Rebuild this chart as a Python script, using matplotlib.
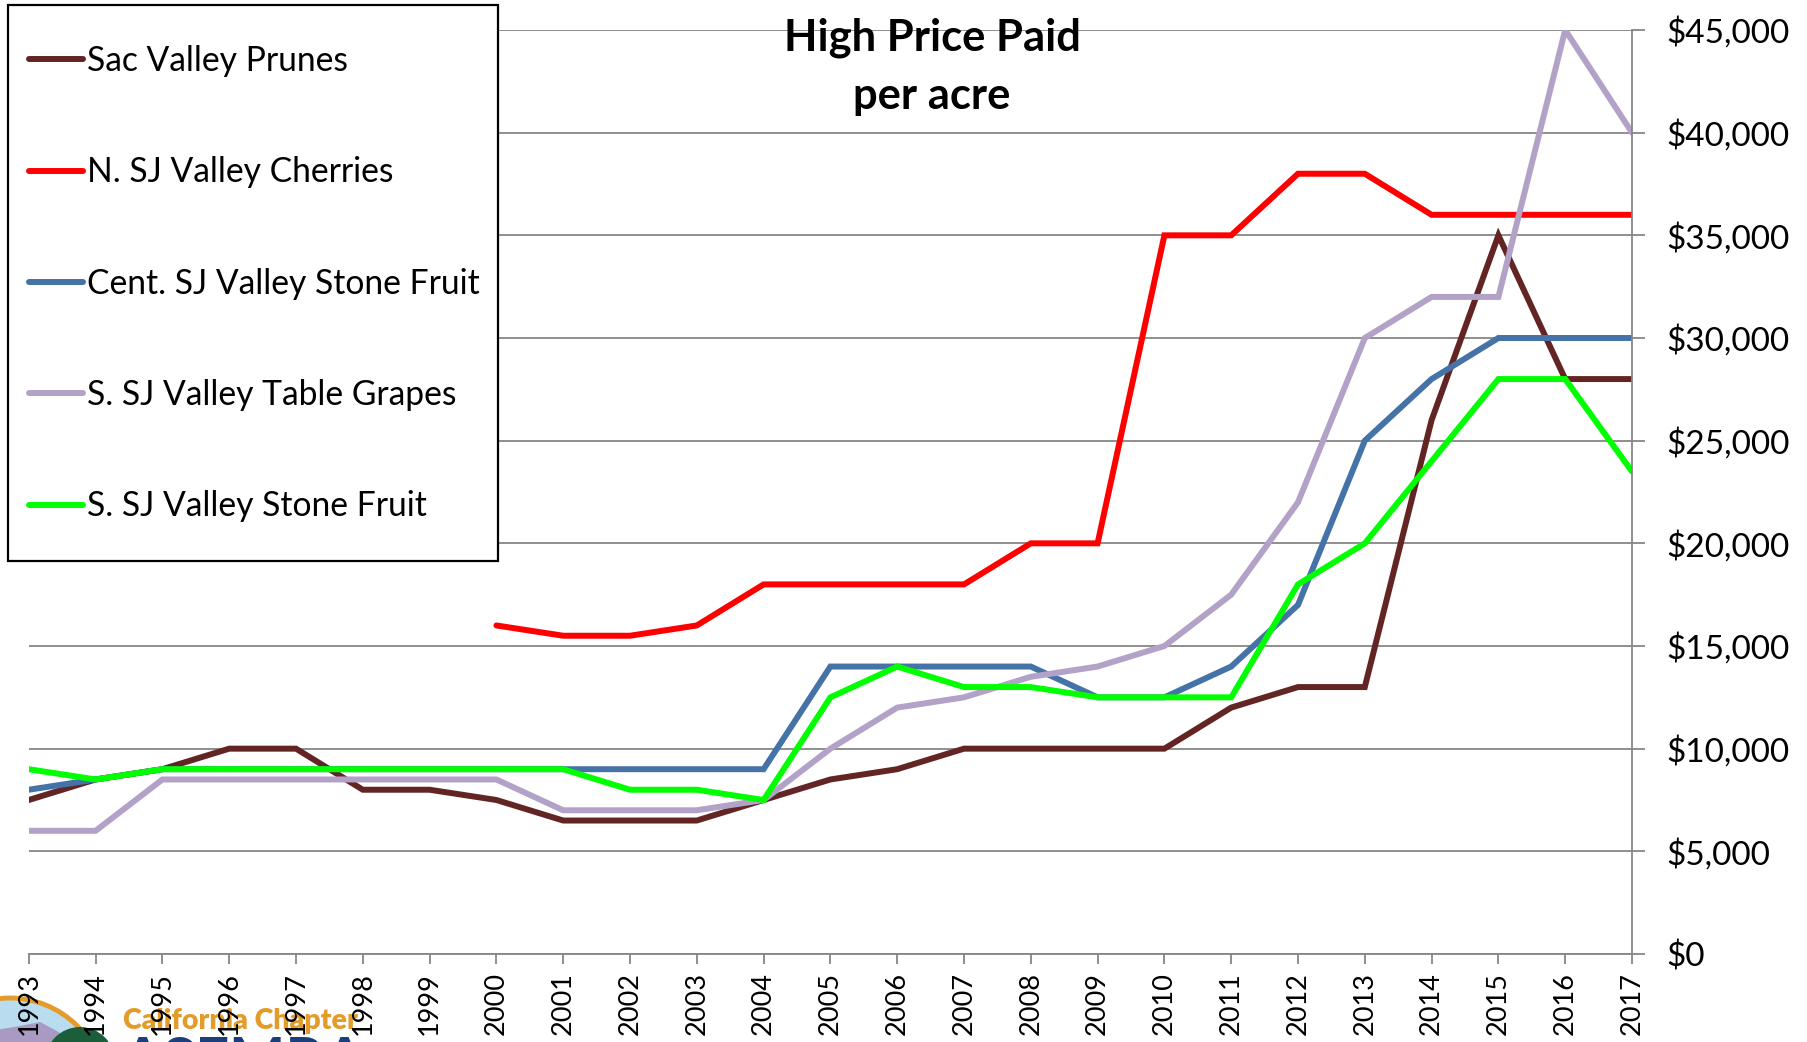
import numpy as np
import matplotlib
matplotlib.use("Agg")
import matplotlib.pyplot as plt
from matplotlib.patches import Rectangle, Circle, Ellipse, Polygon
from matplotlib.ticker import FuncFormatter

W, H = 1807, 1042
plt.rcParams["font.family"] = ["Lato", "DejaVu Sans"]

years = list(range(1993, 2018))

prunes = [7500, 8500, 9000, 10000, 10000, 8000, 8000, 7500, 6500, 6500, 6500, 7500,
          8500, 9000, 10000, 10000, 10000, 10000, 12000, 13000, 13000, 26000, 35000,
          28000, 28000]
cherry_years = list(range(2000, 2018))
cherries = [16000, 15500, 15500, 16000, 18000, 18000, 18000, 18000, 20000, 20000,
            35000, 35000, 38000, 38000, 36000, 36000, 36000, 36000]
cent_stone = [8000, 8500, 9000, 9000, 9000, 9000, 9000, 9000, 9000, 9000, 9000, 9000,
              14000, 14000, 14000, 14000, 12500, 12500, 14000, 17000, 25000, 28000,
              30000, 30000, 30000]
grapes = [6000, 6000, 8500, 8500, 8500, 8500, 8500, 8500, 7000, 7000, 7000, 7500,
          10000, 12000, 12500, 13500, 14000, 15000, 17500, 22000, 30000, 32000, 32000,
          45000, 40000]
s_stone = [9000, 8500, 9000, 9000, 9000, 9000, 9000, 9000, 9000, 8000, 8000, 7500,
           12500, 14000, 13000, 13000, 12500, 12500, 12500, 18000, 20000, 24000, 28000,
           28000, 23500]

series = [
    ("Sac Valley Prunes", years, prunes, "#632523"),
    ("N. SJ Valley Cherries", cherry_years, cherries, "#FF0000"),
    ("Cent. SJ Valley Stone Fruit", years, cent_stone, "#4572A7"),
    ("S. SJ Valley Table Grapes", years, grapes, "#B3A2C7"),
    ("S. SJ Valley Stone Fruit", years, s_stone, "#00FF00"),
]

GRID = "#868686"

fig = plt.figure(figsize=(W / 100, H / 100), dpi=100)
ax = fig.add_axes([28.8 / W, 1 - 954 / H, (1632 - 28.8) / W, (954 - 30) / H])
ax.set_facecolor("none")

for name, xs, ys, c in series:
    ax.plot(xs, ys, color=c, lw=4.3, label=name, solid_capstyle="round",
            solid_joinstyle="miter")

ax.set_xlim(1993, 2017)
ax.set_ylim(0, 45000)
ax.set_xticks(years)
ax.set_xticklabels([str(y) for y in years], rotation=90, fontsize=19.5)
ax.set_yticks(np.arange(0, 45001, 5000))
ax.yaxis.set_major_formatter(FuncFormatter(lambda v, p: f"${v:,.0f}"))
ax.yaxis.tick_right()
ax.tick_params(axis="y", length=9, width=1.3, color=GRID, pad=16, labelsize=24)
ax.tick_params(axis="x", length=7, width=1.3, color=GRID, pad=6)
ax.grid(axis="y", color=GRID, lw=1.3)
for s in ["top", "left"]:
    ax.spines[s].set_visible(False)
for s in ["bottom", "right"]:
    ax.spines[s].set_color(GRID)
    ax.spines[s].set_linewidth(1.3)

ax.text(932 / W, 1 - 67 / H, "High Price Paid\nper acre", transform=fig.transFigure,
        ha="center", va="center", fontsize=31.3, fontweight="bold", linespacing=1.55)

# legend box with white fill, covering the gridlines underneath
box = Rectangle((8 / W, 1 - 561 / H), 490 / W, 556 / H, transform=fig.transFigure,
                facecolor="white", edgecolor="black", lw=1.6, clip_on=False, zorder=5)
ax.add_patch(box)
leg = ax.legend(loc="upper left", bbox_to_anchor=(29 / W, 1 - 45 / H),
                bbox_transform=fig.transFigure, frameon=False, fontsize=24.2,
                borderpad=0, borderaxespad=0, handlelength=1.62, handletextpad=0.1,
                labelspacing=2.36)
leg.set_zorder(6)

# chapter logo in the bottom-left corner, under the tick labels
lax = fig.add_axes([0, 0, 400 / W, 60 / H], zorder=-1)
lax.set_xlim(0, 400)
lax.set_ylim(1042, 982)
lax.axis("off")
lax.add_patch(Circle((10, 1093), 95, facecolor="#b9dcef", edgecolor="#E39B2A", lw=3.5))
lax.add_patch(Polygon([[-20, 1042], [-5, 1030], [20, 1026], [40, 1022], [55, 1030],
                       [75, 1042]], closed=True, facecolor="#a99ac4", edgecolor="none"))
lax.add_patch(Ellipse((80, 1062), 70, 70, facecolor="#1d5e3a", edgecolor="none"))
lax.text(123, 1021, "California Chapter", fontsize=20.5, fontweight="heavy",
         color="#E39B2A", va="center", ha="left")
lax.text(121, 1036, "ASFMRA", fontsize=43, fontweight="bold", color="#1B3F7A",
         va="top", ha="left")

fig.savefig("out.png", dpi=100)
